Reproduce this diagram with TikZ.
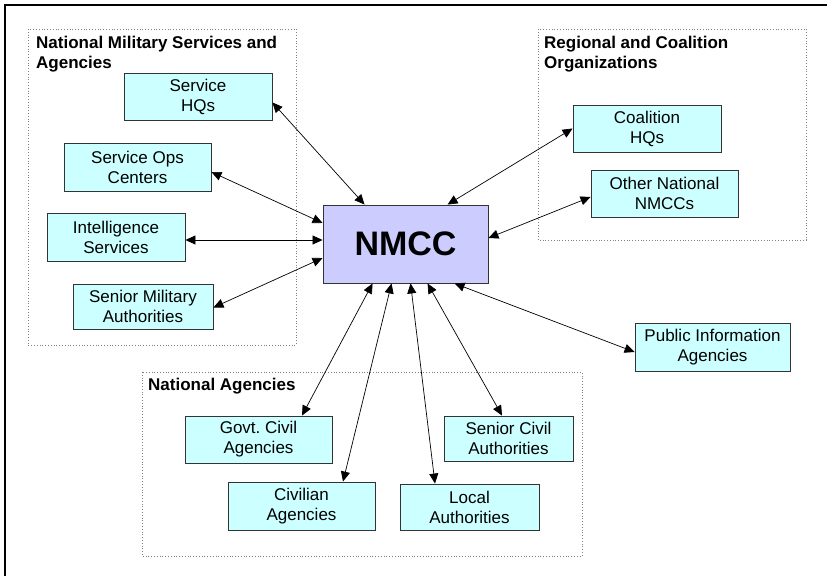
\documentclass[tikz,border=0pt]{standalone}
\usepackage{fontspec}
\setmainfont{Liberation Sans}
\usepackage{xcolor}
\usepackage{tikz}
\usetikzlibrary{arrows.meta, positioning, calc}
\definecolor{unitcyan}{RGB}{204, 255, 255}
\definecolor{centerlilac}{RGB}{204, 204, 255}
\definecolor{boxedge}{RGB}{51, 51, 51}
\frenchspacing

\begin{document}
\begin{tikzpicture}[x=1pt, y=-1pt,
    unitbox/.style={draw=boxedge, fill=unitcyan, line width=0.9pt, inner sep=0pt,
          align=center, font=\fontsize{17}{20}\selectfont},
    groupbox/.style={draw=gray, dotted, line width=0.8pt},
    grouplabel/.style={anchor=north west, align=left, inner sep=0pt,
          font=\fontsize{17}{20}\selectfont\bfseries},
    link/.style={{Triangle[length=10pt,width=9pt]}-{Triangle[length=10pt,width=9pt]}, line width=0.7pt}]
    \useasboundingbox (0,0) rectangle (827,576);
    \draw[line width=2.8pt] (5,576) -- (5,5) -- (827,5);

    % groups
    \draw[groupbox] (28,29) rectangle (296,345);
    \node[grouplabel] (milLabel) at (36,36) {National Military Services and\\Agencies};
    \draw[groupbox] (538,29) rectangle (806,240);
    \node[grouplabel] (regLabel) at (544,36) {Regional and Coalition\\Organizations};
    \draw[groupbox] (142,372) rectangle (582,556);
    \node[grouplabel] (natLabel) at (148,378) {National Agencies};

    % centre
    \node[draw=boxedge, fill=centerlilac, line width=0.9pt, minimum width=165pt, minimum height=78pt,
          font=\fontsize{34}{36}\selectfont\bfseries] (nmcc) at (405.5,244) {NMCC};

    % military
    \node[unitbox, minimum width=148pt, minimum height=47pt] (serviceHQ) at (198,96.5) {Service\\HQs};
    \node[unitbox, minimum width=147pt, minimum height=48pt] (serviceOps) at (137.5,167) {Service Ops\\Centers};
    \node[unitbox, minimum width=138pt, minimum height=48pt] (intel) at (116,237) {Intelligence\\Services};
    \node[unitbox, minimum width=140pt, minimum height=45pt] (seniorMil) at (143,306.5) {Senior Military\\Authorities};

    % regional
    \node[unitbox, minimum width=148pt, minimum height=47pt] (coalitionHQ) at (647,128.5) {Coalition\\HQs};
    \node[unitbox, minimum width=147pt, minimum height=47pt] (otherNMCC) at (664.5,193.5) {Other National\\NMCCs};
    \node[unitbox, minimum width=155pt, minimum height=48pt] (publicInfo) at (712.5,347) {Public Information\\Agencies};

    % national
    \node[unitbox, minimum width=147pt, minimum height=47pt] (govtCivil) at (258.5,439.5) {Govt. Civil\\Agencies};
    \node[unitbox, minimum width=147pt, minimum height=48pt] (civilian) at (301.5,506) {Civilian\\Agencies};
    \node[unitbox, minimum width=129pt, minimum height=45pt] (seniorCivil) at (508.5,438.5) {Senior Civil\\Authorities};
    \node[unitbox, minimum width=139pt, minimum height=46pt] (local) at (469.5,507) {Local\\Authorities};

    % links
    \draw[link] ([yshift=-6pt]serviceHQ.east) -- ([xshift=42pt]nmcc.north west);
    \draw[link] ([yshift=-5pt]serviceOps.east) -- ([yshift=21pt]nmcc.west);
    \draw[link] ([yshift=-3pt]intel.east) -- ([yshift=-3pt]intel.east -| nmcc.west);
    \draw[link] ([yshift=-1pt]seniorMil.east) -- ([yshift=-14pt]nmcc.west);
    \draw[link] ([xshift=125pt]nmcc.north west) -- (coalitionHQ.west);
    \draw[link] ([yshift=6pt]nmcc.east) -- ([yshift=-3.5pt]otherNMCC.west);
    \draw[link] ([xshift=132pt]nmcc.south west) -- ([yshift=-5pt]publicInfo.west);
    \draw[link] ([xshift=50pt]nmcc.south west) -- ([xshift=43.5pt]govtCivil.north);
    \draw[link] ([xshift=69pt]nmcc.south west) -- ([xshift=41.5pt]civilian.north);
    \draw[link] ([xshift=88pt]nmcc.south west) -- ([xshift=-34.5pt]local.north);
    \draw[link] ([xshift=105pt]nmcc.south west) -- ([xshift=-6.5pt]seniorCivil.north);
\end{tikzpicture}
\end{document}
